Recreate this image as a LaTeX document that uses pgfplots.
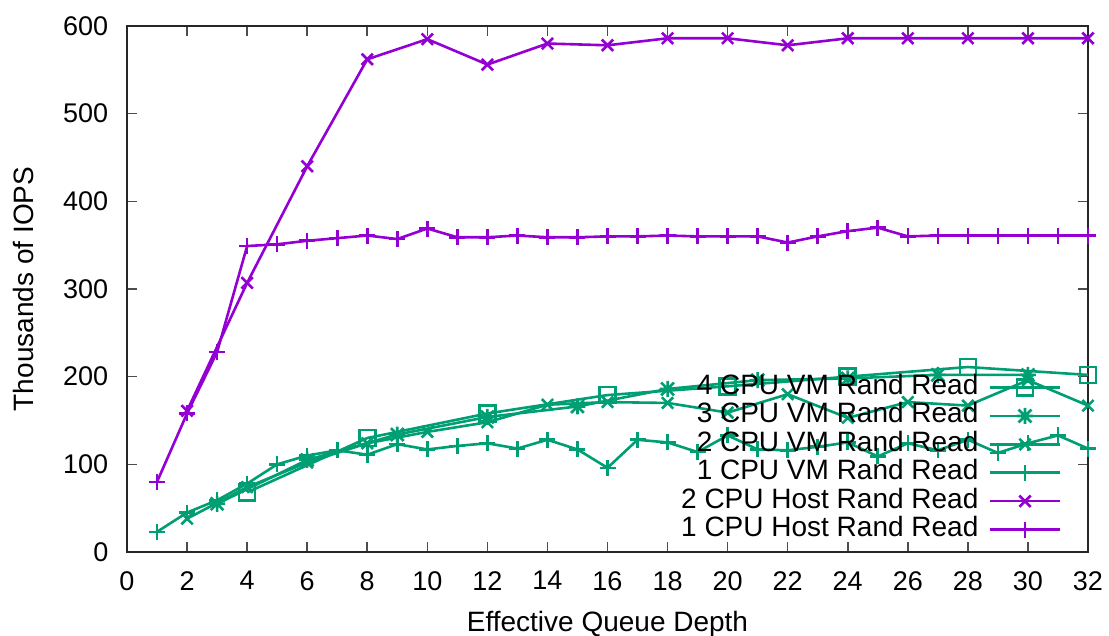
\documentclass[border=0pt]{standalone}
\usepackage{fontspec}
\setmainfont{Liberation Sans}
\usepackage{pgfplots}
\pgfplotsset{compat=1.18}
\definecolor{gpurple}{HTML}{9400D3}
\definecolor{ggreen}{HTML}{009E73}
\pgfdeclareplotmark{gpstar}{%
  \pgfpathmoveto{\pgfqpoint{-\pgfplotmarksize}{0pt}}\pgfpathlineto{\pgfqpoint{\pgfplotmarksize}{0pt}}%
  \pgfpathmoveto{\pgfqpoint{0pt}{-\pgfplotmarksize}}\pgfpathlineto{\pgfqpoint{0pt}{\pgfplotmarksize}}%
  \pgfpathmoveto{\pgfqpoint{-0.8\pgfplotmarksize}{-0.8\pgfplotmarksize}}\pgfpathlineto{\pgfqpoint{0.8\pgfplotmarksize}{0.8\pgfplotmarksize}}%
  \pgfpathmoveto{\pgfqpoint{-0.8\pgfplotmarksize}{0.8\pgfplotmarksize}}\pgfpathlineto{\pgfqpoint{0.8\pgfplotmarksize}{-0.8\pgfplotmarksize}}%
  \pgfusepathqstroke}
\begin{document}
\fontsize{14}{16}\selectfont
\begin{tikzpicture}
\begin{axis}[
  scale only axis, width=480.5pt, height=263pt,
  xmin=0, xmax=32, ymin=0, ymax=600,
  xtick={0,2,...,32}, ytick={0,100,...,600},
  tick align=inside, tick pos=both, major tick length=5pt,
  axis line style={line width=1pt, black!85},
  every tick/.style={black!70, line width=0.8pt},
  /pgf/number format/assume math mode=true,
  tick label style={font=\fontsize{13.5}{16}\selectfont},
  yticklabel style={xshift=-4.5pt},
  xticklabel style={yshift=-4.8pt},
  xlabel={Effective Queue Depth}, ylabel={Thousands of IOPS},
  xlabel style={at={(axis description cs:0.5,-0.137)}, anchor=center, font=\fontsize{14}{16}\selectfont},
  ylabel style={at={(axis description cs:-0.108,0.5)}, anchor=center, font=\fontsize{14}{16}\selectfont},
  every axis plot/.append style={line width=1.3pt, mark size=4pt, mark options={solid}},
  legend plot pos=right, legend cell align=right,
  legend image code/.code={\draw[mark repeat=2,mark phase=2] plot coordinates {(0cm,0cm) (0.62cm,0cm) (1.24cm,0cm)};},
  legend style={at={(rel axis cs:1,0)}, anchor=south east, xshift=-13pt, yshift=4.5pt,
    draw=none, fill=none, font=\fontsize{14}{16}\selectfont, row sep=1.2pt, column sep=5pt, inner sep=0pt,
    nodes={inner sep=0pt, text height=10pt, text depth=3pt}},
  clip=false,
]
\coordinate (bl) at (rel axis cs:0,0);
\coordinate (tr) at (rel axis cs:1,1);
\addplot[ggreen, mark=square] coordinates {(4,68)(8,130)(12,158)(16,179)(20,189)(24,200)(28,211)(32,202)};
\addlegendentry{4 CPU VM Rand Read}
\addplot[ggreen, mark=gpstar] coordinates {(3,55)(6,105)(9,134)(12,154)(15,166)(18,186)(21,196)(24,198)(27,202)(30,202)};
\addlegendentry{3 CPU VM Rand Read}
\addplot[ggreen, mark=x] coordinates {(2,38)(4,74)(6,102)(8,124)(10,137)(12,148)(14,168)(16,171)(18,170)(20,159)(22,180)(24,153)(26,171)(28,167)(30,196)(32,167)};
\addlegendentry{2 CPU VM Rand Read}
\addplot[ggreen, mark=+] coordinates {(1,23)(2,45)(3,59)(4,78)(5,100)(6,110)(7,116)(8,111)(9,123)(10,117)(11,121)(12,124)(13,118)(14,128)(15,117)(16,96)(17,128)(18,125)(19,114)(20,133)(21,117)(22,116)(23,120)(24,125)(25,109)(26,124)(27,116)(28,128)(29,113)(30,124)(31,133)(32,118)};
\addlegendentry{1 CPU VM Rand Read}
\addplot[gpurple, mark=x] coordinates {(2,161)(4,307)(6,440)(8,562)(10,585)(12,556)(14,580)(16,578)(18,586)(20,586)(22,578)(24,586)(26,586)(28,586)(30,586)(32,586)};
\addlegendentry{2 CPU Host Rand Read}
\addplot[gpurple, mark=+] coordinates {(1,80)(2,158)(3,228)(4,349)(5,351)(6,355)(7,358)(8,361)(9,357)(10,369)(11,359)(12,359)(13,361)(14,359)(15,359)(16,360)(17,360)(18,361)(19,360)(20,360)(21,360)(22,353)(23,360)(24,366)(25,370)(26,360)(27,361)(28,361)(29,361)(30,361)(31,361)(32,361)};
\addlegendentry{1 CPU Host Rand Read}
\end{axis}
\pgfresetboundingbox
\path ([shift={(-63.5pt,-42pt)}]bl) rectangle ([shift={(10.5pt,13pt)}]tr);
\end{tikzpicture}
\end{document}
